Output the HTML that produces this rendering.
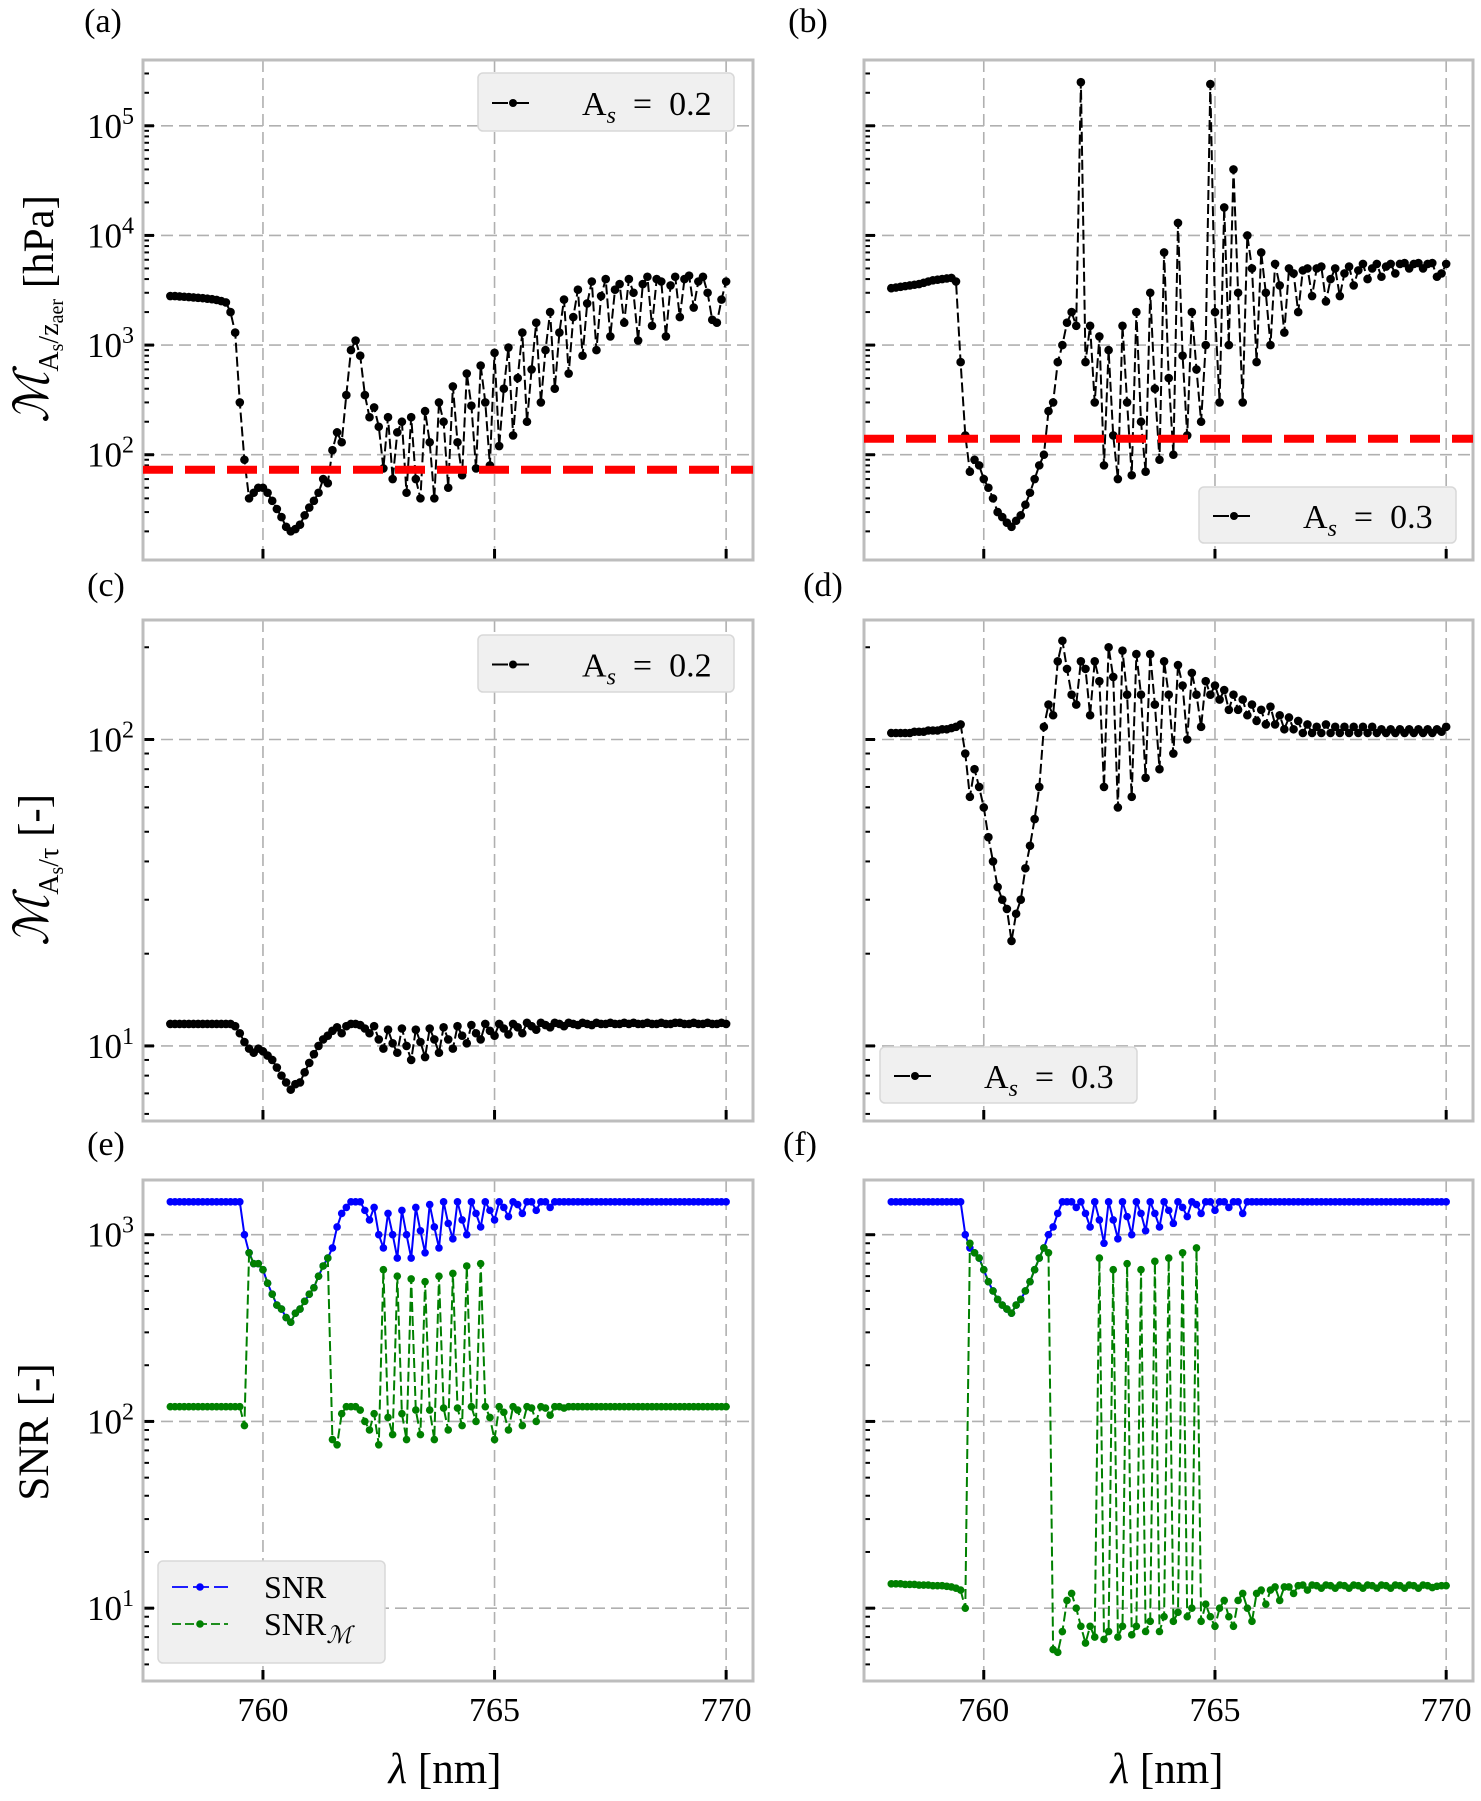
<!DOCTYPE html>
<html><head><meta charset="utf-8"><style>
body{margin:0;background:#fff}
svg, svg text{font-family:"Liberation Serif","DejaVu Serif",serif}
</style></head><body>
<svg id="fig" width="1481" height="1796" viewBox="0 0 1481 1796" font-family="Liberation Serif, DejaVu Serif, serif"></svg>
<script>
const wlStart = 758, wlEnd = 770;
const seriesA = [2800,2800,2780,2760,2740,2720,2700,2680,2650,2620,
2580,2520,2450,2000,1300,300,90,40,45,50,
50,45,38,32,27,22,20,21,23,28,
33,38,45,60,55,110,160,130,350,900,
1100,800,350,220,270,180,75,220,60,160,
200,45,220,60,40,250,130,40,300,200,
50,420,130,65,550,280,75,650,300,80,
850,120,400,950,150,500,1300,200,600,1600,
300,900,2000,400,1300,2600,550,1800,3200,800,
2400,3800,900,2800,4000,1200,3200,3600,1600,4000,
3000,1100,3600,4200,1500,4000,3800,1200,3500,4200,
1800,4000,4300,2200,3800,4200,3000,1700,1600,2600,3800];
const seriesB = [3300,3350,3400,3450,3500,3550,3600,3700,3800,3900,
3950,4000,4050,4100,3800,700,150,70,90,80,
60,50,40,30,27,24,22,25,28,35,
45,60,80,100,250,300,700,1000,1600,2000,
1500,250000,700,1500,300,1200,80,900,150,60,
1500,300,65,2000,200,70,3000,400,90,7000,
500,100,13000,800,150,2000,600,200,1000,240000,
2000,300,18000,1000,40000,3000,300,10000,5000,700,
7000,3000,1000,5500,3500,1300,5000,4500,2000,4800,
5000,2800,5000,5200,2500,4000,5000,2800,4500,5200,
3500,4800,5500,4000,5000,5500,4200,5200,5500,4500,
5500,5600,5000,5500,5600,5000,5500,5600,4200,4500,5500];
const seriesC = [11.8,11.8,11.8,11.8,11.8,11.8,11.8,11.8,11.8,11.8,
11.8,11.8,11.8,11.8,11.6,11,10.3,9.8,9.5,9.8,
9.6,9.3,9.0,8.5,8.0,7.6,7.2,7.5,7.6,8.2,
8.8,9.4,10,10.5,10.8,11.2,11.5,11.0,11.6,11.8,
11.8,11.7,11.4,11.0,11.6,10.5,9.8,11.3,10.2,9.5,
11.4,10.0,9.0,11.3,10.3,9.2,11.4,10.5,9.5,11.5,
10.5,9.8,11.6,10.8,10.2,11.7,11.0,10.5,11.8,11.2,
10.8,11.8,11.4,10.9,11.8,11.5,11.0,11.9,11.6,11.3,
11.9,11.7,11.5,11.9,11.8,11.6,11.9,11.8,11.7,11.9,
11.8,11.7,11.9,11.8,11.8,11.9,11.8,11.8,11.9,11.8,
11.9,11.8,11.8,11.9,11.8,11.8,11.9,11.8,11.8,11.9,
11.9,11.8,11.8,11.9,11.8,11.8,11.9,11.8,11.8,11.9,11.8];
const seriesD = [105,105,105,105,105,106,106,106,107,107,
107,108,108,109,110,112,90,65,80,70,
60,48,40,33,30,28,22,27,30,38,
45,55,70,110,130,120,180,210,170,140,
130,180,170,120,180,155,70,200,160,60,
195,140,65,190,140,75,190,130,80,180,
140,90,175,150,100,165,140,110,155,140,
150,135,145,125,140,125,135,120,130,115,
125,112,128,112,120,108,118,108,115,105,
112,105,110,105,112,105,110,105,110,105,
110,105,110,105,110,105,108,105,108,105,
108,105,108,105,108,105,108,105,108,106,110];
const snrE = [1500,1500,1500,1500,1500,1500,1500,1500,1500,1500,
1500,1500,1500,1500,1500,1500,1000,800,700,700,
650,550,480,420,400,360,340,380,400,440,
480,520,600,680,750,850,1100,1300,1400,1500,
1500,1500,1350,1200,1400,1000,850,1300,1000,750,
1350,1000,750,1400,1050,800,1450,1100,850,1500,
1150,950,1500,1200,1000,1500,1300,1100,1500,1350,
1200,1500,1400,1250,1500,1450,1300,1500,1500,1350,
1500,1500,1400,1500,1500,1500,1500,1500,1500,1500,
1500,1500,1500,1500,1500,1500,1500,1500,1500,1500,
1500,1500,1500,1500,1500,1500,1500,1500,1500,1500,
1500,1500,1500,1500,1500,1500,1500,1500,1500,1500,1500];
const snrME = [120,120,120,120,120,120,120,120,120,120,
120,120,120,120,120,120,95,800,700,700,
650,550,480,420,400,360,340,380,400,440,
480,520,600,680,750,80,75,110,120,120,
120,115,100,90,110,75,650,105,85,600,
110,80,580,115,85,560,115,80,600,118,
90,620,118,95,680,120,100,700,120,105,
80,120,112,90,120,115,95,120,118,100,
120,118,108,120,120,118,120,120,120,120,
120,120,120,120,120,120,120,120,120,120,
120,120,120,120,120,120,120,120,120,120,
120,120,120,120,120,120,120,120,120,120,120];
const snrF = [1500,1500,1500,1500,1500,1500,1500,1500,1500,1500,
1500,1500,1500,1500,1500,1500,1000,850,800,750,
650,560,500,450,420,400,380,420,450,500,
560,650,750,850,1000,1100,1300,1500,1500,1500,
1400,1500,1300,1100,1500,1200,900,1500,1200,950,
1500,1250,1000,1500,1300,1050,1500,1300,1100,1500,
1350,1150,1500,1400,1250,1500,1450,1300,1500,1500,
1350,1500,1500,1400,1500,1500,1300,1500,1500,1500,
1500,1500,1500,1500,1500,1500,1500,1500,1500,1500,
1500,1500,1500,1500,1500,1500,1500,1500,1500,1500,
1500,1500,1500,1500,1500,1500,1500,1500,1500,1500,
1500,1500,1500,1500,1500,1500,1500,1500,1500,1500,1500];
const snrMF = [13.5,13.5,13.5,13.4,13.4,13.4,13.3,13.3,13.3,13.2,
13.2,13.2,13.1,13.0,12.8,12.5,10,900,800,750,
650,560,500,450,420,400,380,420,450,500,
560,650,750,850,800,6,5.8,7.5,11,12,
10,8,6.5,8,7,750,6.8,7.5,650,7,
8,700,7.2,8,650,7.5,8.5,720,7.5,9,
750,8.5,9.5,800,9,10,850,8.5,10.5,9,
8,10,11,9,8,11,12,10,8.5,12,
12.5,10.5,12.5,13,11,13,13,12,13.2,13.3,
12.5,13.3,13.2,12.8,13.3,13.2,12.8,13.3,13.2,12.8,
13.3,13.2,12.8,13.3,13.2,12.8,13.3,13.2,12.8,13.3,
13.2,12.8,13.3,13.2,12.8,13.3,13.2,12.9,13.1,13.2,13.2];
const thresholdA = 73, thresholdB = 140;
const xTicks = [760,765,770];

const NS='http://www.w3.org/2000/svg';
const svg=document.getElementById('fig');
const FF='Liberation Serif, DejaVu Serif, serif';
function mk(tag,attrs,parent){const e=document.createElementNS(NS,tag);for(const k in attrs)e.setAttribute(k,attrs[k]);if(tag==='text')e.setAttribute('font-family',FF);(parent||svg).appendChild(e);return e;}

const XMIN=757.41, XMAX=770.58;
function panel(name,x0,x1,y0,y1,lmin,lmax,majors,showLabels){
  const g=mk('g',{});
  
  
  const xs=v=>x0+(v-XMIN)/(XMAX-XMIN)*(x1-x0);
  const ys=v=>y1-(Math.log10(v)-lmin)/(lmax-lmin)*(y1-y0);
  xTicks.forEach(t=>{const l=mk('line',{x1:xs(t),x2:xs(t),y1:y0,y2:y1,stroke:'#b0b0b0','stroke-width':1.6,'stroke-dasharray':'12,6'},g);
    });
  majors.forEach(m=>{const y=ys(Math.pow(10,m));const l=mk('line',{x1:x0,x2:x1,y1:y,y2:y,stroke:'#b0b0b0','stroke-width':1.6,'stroke-dasharray':'12,6'},g);
    
    if(showLabels){const t=mk('text',{x:x0-9,y:y+12,'text-anchor':'end','font-size':35},g);
      
      t.appendChild(document.createTextNode('10'));const s=mk('tspan',{dy:-14,'font-size':24},t);s.textContent=m;}});
  for(let d=Math.floor(lmin);d<=Math.ceil(lmax);d++){for(let k=1;k<10;k++){const lv=d+Math.log10(k);if(lv<lmin||lv>lmax)continue;
    const y=ys(Math.pow(10,lv));const tk=mk('line',{x1:x0,x2:x0+(k==1?11:6),y1:y,y2:y,stroke:'#000','stroke-width':k==1?3:2},g);
    }}
  xTicks.forEach(t=>{const tk=mk('line',{x1:xs(t),x2:xs(t),y1:y1,y2:y1-11,stroke:'#000','stroke-width':3},g);
    });
  const fr=mk('rect',{x:x0,y:y0,width:x1-x0,height:y1-y0,fill:'none',stroke:'#bdbdbd','stroke-width':3},g);
  
  return {g,xs,ys,x0,x1,y0,y1};
}
function series(p,vals,color,dashed,name,r){
  const n=vals.length;const step=(wlEnd-wlStart)/(n-1);
  const pts=vals.map((v,i)=>[p.xs(wlStart+i*step),p.ys(v)]);
  const cp=mk('clipPath',{id:'cp'+name},p.g);mk('rect',{x:p.x0,y:p.y0,width:p.x1-p.x0,height:p.y1-p.y0},cp);
  const sg=mk('g',{'clip-path':'url(#cp'+name+')'},p.g);
  
  
  const pl=mk('polyline',{points:pts.map(q=>q[0].toFixed(1)+','+q[1].toFixed(1)).join(' '),fill:'none',stroke:color,'stroke-width':2,'stroke-dasharray':dashed?'10,4':'none'},sg);
  
  pts.forEach(q=>{const c=mk('circle',{cx:q[0],cy:q[1],r:r,fill:color},sg);
    });
}
function hline(p,v,name){const y=p.ys(v);const l=mk('line',{x1:p.x0,x2:p.x1,y1:y,y2:y,stroke:'#ff0000','stroke-width':8,'stroke-dasharray':'30,12'},p.g);
  }
function legendAs(x,y,w,h,val,name){
  const g=mk('g',{});
  mk('rect',{x:x,y:y,width:w,height:h,rx:5,fill:'#f0f0f0',stroke:'#d8d8d8','stroke-width':1.5},g);
  const cy=y+h/2+1;
  mk('line',{x1:x+14,x2:x+55,y1:cy,y2:cy,stroke:'#000','stroke-width':2,'stroke-dasharray':'16,5'},g);
  mk('circle',{cx:x+35,cy:cy,r:4,fill:'#000'},g);
  const t=mk('text',{x:x+104,y:cy+12,'font-size':34},g);
  t.appendChild(document.createTextNode('A'));const s=mk('tspan',{dy:8,'font-size':24,'font-style':'italic'},t);s.textContent='s';
  const s2=mk('tspan',{dy:-8},t);s2.textContent='\u2002=\u20020.'+val;
}
function plabel(x,y,txt){const t=mk('text',{x:x,y:y,'font-size':34,'text-anchor':'middle'});t.textContent=txt;
  }

const LX0=143,LX1=753,RX0=864,RX1=1473;
const pa=panel('panel-a',LX0,LX1,60,560,1.04,5.6,[2,3,4,5],true);
series(pa,seriesA,'#000',true,'series-as-0.2',4.3);hline(pa,thresholdA,'threshold-line-a');
legendAs(478,73,256,58,2,'legend-a');
const pb=panel('panel-b',RX0,RX1,60,560,1.04,5.6,[2,3,4,5],false);
series(pb,seriesB,'#000',true,'series-as-0.3',4.3);hline(pb,thresholdB,'threshold-line-b');
legendAs(1199,487,257,56,3,'legend-b');
const pc=panel('panel-c',LX0,LX1,620,1121,0.755,2.39,[1,2],true);
series(pc,seriesC,'#000',true,'series-c-as-0.2',4.3);
legendAs(478,635,256,57,2,'legend-c');
const pd=panel('panel-d',RX0,RX1,620,1121,0.755,2.39,[1,2],false);
series(pd,seriesD,'#000',true,'series-d-as-0.3',4.3);
legendAs(880,1047,257,56,3,'legend-d');
const pe=panel('panel-e',LX0,LX1,1180,1681,0.61,3.293,[1,2,3],true);
series(pe,snrE,'#0000ff',false,'snr-e',3.8);series(pe,snrME,'#008000',true,'snr-m-e',3.8);
const pf=panel('panel-f',RX0,RX1,1180,1681,0.61,3.293,[1,2,3],false);
series(pf,snrF,'#0000ff',false,'snr-f',3.8);series(pf,snrMF,'#008000',true,'snr-m-f',3.8);

(function(){const g=mk('g',{});
  mk('rect',{x:158,y:1561,width:227,height:102,rx:5,fill:'#f0f0f0',stroke:'#d8d8d8','stroke-width':1.5},g);
  [['#0000ff',1587,'SNR'],['#008000',1624,'SNR']].forEach((d,i)=>{
    mk('line',{x1:172,x2:228,y1:d[1],y2:d[1],stroke:d[0],'stroke-width':1.8,'stroke-dasharray':i?'9,4':'16,5'},g);
    mk('circle',{cx:200,cy:d[1],r:3.8,fill:d[0]},g);
    const t=mk('text',{x:264,y:d[1]+11,'font-size':32},g);t.appendChild(document.createTextNode(d[2]));
    if(i){const s=mk('tspan',{dy:8,'font-size':24,'font-style':'italic','font-family':'DejaVu Serif'},t);s.textContent='ℳ';}
  });})();

[[pe],[pf]].forEach(([p])=>xTicks.forEach(t=>{const tx=mk('text',{x:p.xs(t),y:1721,'text-anchor':'middle','font-size':34});tx.textContent=t;
  }));
[[445],[1167]].forEach(([cx])=>{const t=mk('text',{x:cx,y:1783,'text-anchor':'middle','font-size':43});
  
  const s=mk('tspan',{'font-style':'italic'},t);s.textContent='λ';t.appendChild(document.createTextNode(' [nm]'));});

plabel(103,32,'(a)');plabel(808,32,'(b)');plabel(106,596,'(c)');plabel(823,596,'(d)');plabel(106,1155,'(e)');plabel(800,1155,'(f)');

function ytitle(cy,parts,name){const t=mk('text',{x:0,y:0,'font-size':43,'text-anchor':'middle',transform:'translate(48,'+cy+') rotate(-90)'});
  parts(t);}
ytitle(309,t=>{const m=mk('tspan',{'font-style':'italic','font-size':48},t);m.textContent='ℳ';
  const a=mk('tspan',{dy:10,'font-size':28},t);a.textContent='A';const b=mk('tspan',{dy:5,'font-size':20},t);b.textContent='s';
  const c=mk('tspan',{dy:-5,'font-size':28},t);c.textContent='/z';const d=mk('tspan',{dy:5,'font-size':20},t);d.textContent='aer';
  const e=mk('tspan',{dy:-10},t);e.textContent=' [hPa]';},'y-axis-title-a');
ytitle(870,t=>{const m=mk('tspan',{'font-style':'italic','font-size':48},t);m.textContent='ℳ';
  const a=mk('tspan',{dy:10,'font-size':28},t);a.textContent='A';const b=mk('tspan',{dy:5,'font-size':20},t);b.textContent='s';
  const c=mk('tspan',{dy:-5,'font-size':28},t);c.textContent='/τ';
  const e=mk('tspan',{dy:-10},t);e.textContent=' [-]';},'y-axis-title-c');
ytitle(1432,t=>{t.textContent='SNR [-]';},'y-axis-title-e');
</script>
</body></html>
